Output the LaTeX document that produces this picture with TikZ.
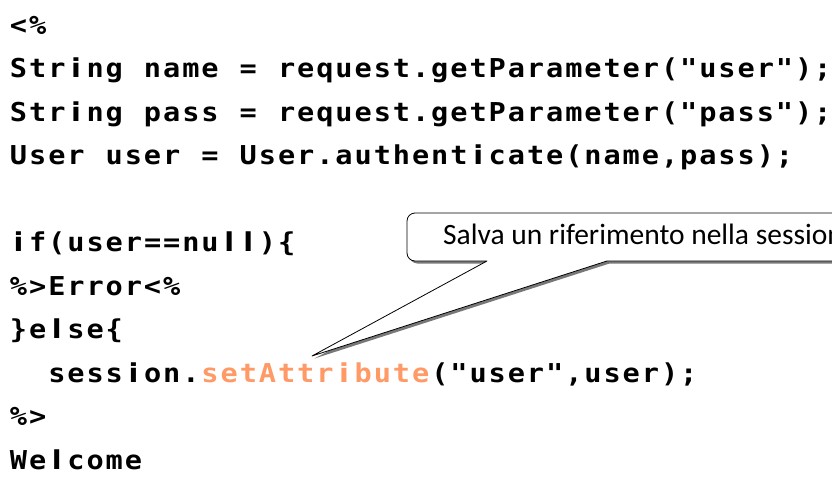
\documentclass[tikz,border=0pt]{standalone}
\usepackage{fontspec}
\setmonofont[FakeStretch=1.1]{DejaVu Sans Mono}
\newfontfamily\stemfont[FakeStretch=1.1]{DejaVu Sans}
\newfontfamily\notefont{Carlito}
\definecolor{accent}{RGB}{255,153,102}
\definecolor{shadowgray}{RGB}{120,120,120}

% fixed-width cells: every character sits centred in a cell of \cellw
\newlength\cellw
\setlength\cellw{19.15pt}
\def\cellsend{\cellsend}
\newcommand\stemglyph[1]{{\stemfont\bfseries#1}}
\newcommand\cellbox[1]{\makebox[\cellw][c]{\ifx i#1\stemglyph{i}\else\ifx l#1\stemglyph{l}\else#1\fi\fi}}
\def\cellsloop#1{\ifx\cellsend#1\else\cellbox{#1}\expandafter\cellsloop\fi}
\newcommand\cells[1]{\cellsloop#1\cellsend}
\newcommand\codefont{\ttfamily\bfseries\fontsize{26}{26}\selectfont}

\begin{document}
\begin{tikzpicture}[x=1pt,y=-1pt,
  codeline/.style={anchor=base west,inner sep=0pt,outer sep=0pt,font=\codefont},
  balloon/.style={fill=white,draw=black,line width=0.8pt,line join=round},
  balloonshadow/.style={fill=shadowgray,draw=none},
  notetext/.style={anchor=base west,inner sep=0pt,font=\notefont\fontsize{29.5}{29.5}\selectfont}]
\useasboundingbox (0,0) rectangle (832,477);

% code listing
\node[codeline] (l1)  at (9,34)    {\cells{<\%}};
\node[codeline] (l2)  at (9,77.5)  {\cells{String~name~=~request.getParameter("user");}};
\node[codeline] (l3)  at (9,121)   {\cells{String~pass~=~request.getParameter("pass");}};
\node[codeline] (l4)  at (9,164.5) {\cells{User~user~=~User.authenticate(name,pass);}};
\node[codeline] (l6)  at (9,251.5) {\cells{if(user==null)\{}};
\node[codeline] (l7)  at (9,295)   {\cells{\%>Error<\%}};
\node[codeline] (l8)  at (9,338.5) {\cells{\}else\{}};
\node[codeline] (l9)  at (9,382)   {\cells{~~session.}\textcolor{accent}{\cells{setAttribute}}\cells{("user",user);}};
\node[codeline] (l10) at (9,425.5) {\cells{\%>}};
\node[codeline] (l11) at (9,469)   {\cells{Welcome}};

% callout balloon
\coordinate (tip) at (312,356);
\begin{scope}
\clip (0,0) rectangle (832,477);
\fill[balloonshadow] ([shift={(2.5,2.5)}]487,261) [rounded corners=8pt] -- ([shift={(2.5,2.5)}]407,261) -- ([shift={(2.5,2.5)}]407,213) -- ([shift={(2.5,2.5)}]880,213) -- ([shift={(2.5,2.5)}]880,261) [sharp corners] -- ([shift={(2.5,2.5)}]607,261) -- ([shift={(2.5,2.5)}]tip) -- cycle;
\draw[balloon] (487,261) [rounded corners=8pt] -- (407,261) -- (407,213) -- (880,213) -- (880,261) [sharp corners] -- (607,261) -- (tip) -- cycle;
\node[notetext] (note) at (443,244) {Salva un riferimento nella sessione};
\end{scope}
\end{tikzpicture}
\end{document}
